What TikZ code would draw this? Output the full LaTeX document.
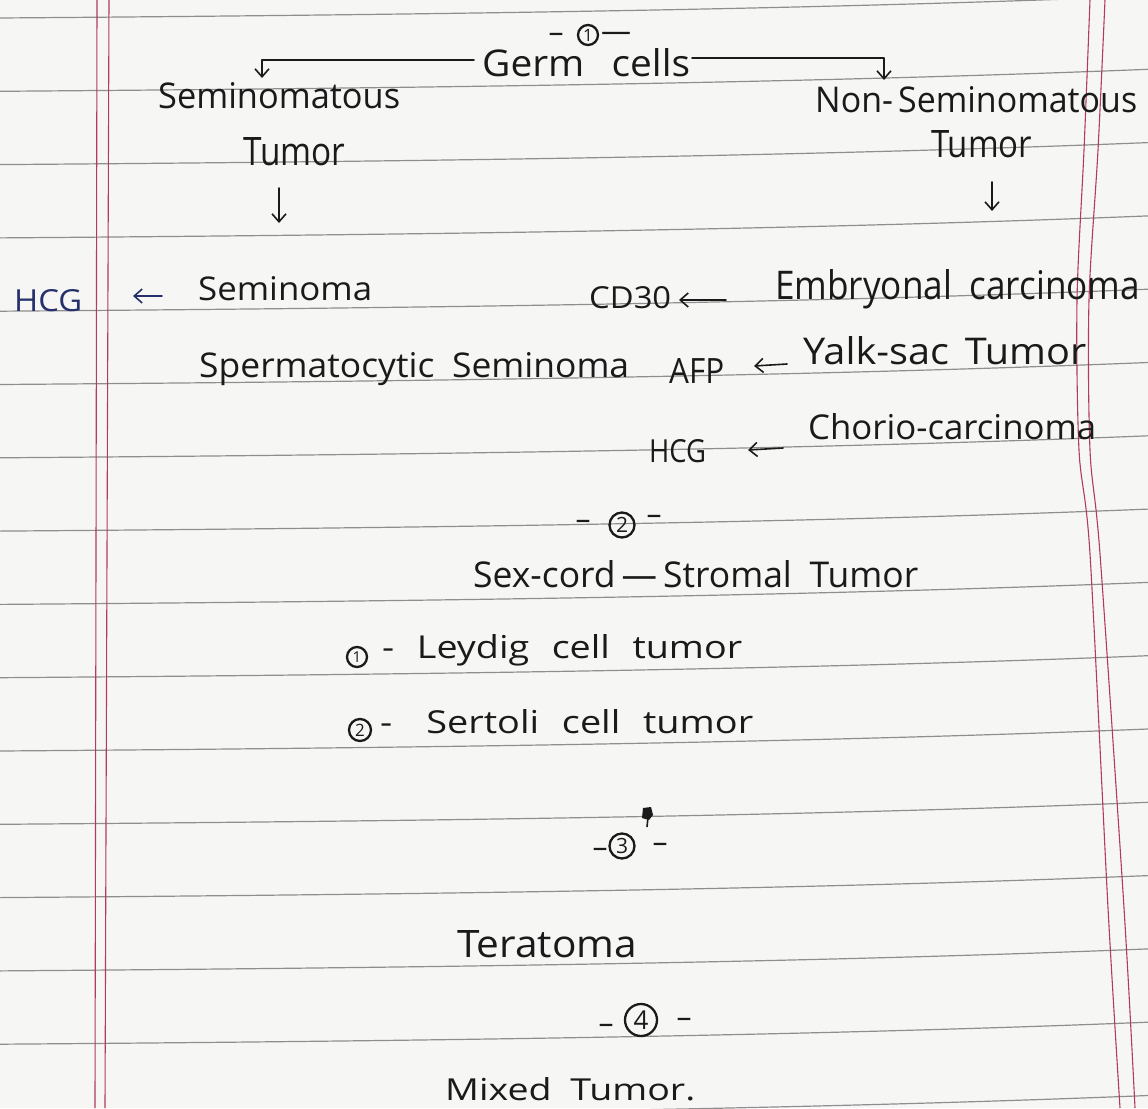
\documentclass[tikz,border=0pt]{standalone}
\usepackage{fontspec}
\setmainfont{Open Sans}
\usepackage{graphicx}
\usetikzlibrary{arrows.meta}
\definecolor{paper}{HTML}{F6F7F5}
\definecolor{rulec}{HTML}{8E8E8E}
\definecolor{marginc}{HTML}{B23A5E}
\definecolor{ink}{HTML}{1A1A1A}
\definecolor{navy}{HTML}{26306A}
% text fitted to a width and a height (in pt)
\newcommand\tw[3]{\resizebox{#1pt}{#2pt}{#3}}
\begin{document}
\begin{tikzpicture}[x=1pt,y=-1pt,
  txt/.style={anchor=base west, inner sep=0pt, text=ink, font=\fontsize{34}{40}\selectfont},
  dashtxt/.style={anchor=center, inner sep=0pt, text=ink, font=\fontsize{30}{34}\selectfont},
  circ/.style={circle, draw=ink, line width=2.3pt, inner sep=0pt, text=ink},
  rule/.style={draw=rulec, line width=1.2pt},
  marginl/.style={draw=marginc, line width=1.1pt},
  arr/.style={draw=ink, line width=1.6pt, line cap=round, line join=round, -{Straight Barb[length=8pt,width=14pt]}}
]
\fill[paper] (0,0) rectangle (1148,1108);
\useasboundingbox (0,0) rectangle (1148,1108);
% ruled lines
\foreach \k in {0,...,15} {
  \pgfmathsetmacro\yk{14+73.3*\k}
  \draw[rule] (0,\yk+4) .. controls (400,\yk+1) and (800,\yk-4) .. (1148,\yk-18);
}
% margin lines
\draw[marginl] (97,0) -- (95,1108);
\draw[marginl] (109,0) -- (105,1108);
\draw[marginl] plot[smooth] coordinates {(1090,0) (1084,150) (1077,300) (1079,450) (1090,554) (1108,908) (1120,1108)};
\draw[marginl] plot[smooth] coordinates {(1105,0) (1098,150) (1089,300) (1090,450) (1100,554) (1124,908) (1135,1108)};

% --- section 1 header
\node[dashtxt] (h1a) at (556,38) {–};
\node[circ, minimum size=20pt, font=\fontsize{17}{17}\selectfont] (h1c) at (588,35) {1};
\node[dashtxt] (h1b) at (616,37) {—};
\node[txt] (germ) at (482,77) {\tw{208}{28}{Germ\hspace{0.7em}cells}};
\node[txt] (semL) at (158,108) {\tw{242}{26}{Seminomatous}};
\node[txt] (tumL) at (243,165) {\tw{102}{28}{Tumor}};
\node[txt] (semR) at (815,113) {\tw{322}{26}{Non-\hspace{0.15em}Seminomatous}};
\node[txt] (tumR) at (931,157) {\tw{101}{27}{Tumor}};

\coordinate (gL0) at (474,60);
\coordinate (gL1) at (262,78);
\coordinate (gR0) at (692,58);
\coordinate (gR1) at (884,80);
\draw[arr] (gL0) -| (gL1);
\draw[arr] (gR0) -| (gR1);
\coordinate (dL0) at (279,188);
\coordinate (dL1) at (279,223);
\coordinate (dR0) at (992,182);
\coordinate (dR1) at (992,211);
\draw[arr] (dL0) -- (dL1);
\draw[arr] (dR0) -- (dR1);

\node[txt, text=navy] (hcgL) at (14,311) {\tw{68}{22}{HCG}};
\node[txt] (semi) at (198,300) {\tw{174}{24}{Seminoma}};
\node[txt] (sperm) at (199,377) {\tw{430}{25}{Spermatocytic\hspace{0.5em}Seminoma}};
\coordinate (aH0) at (162,296);
\coordinate (aH1) at (133,296);
\draw[arr, draw=navy] (aH0) -- (aH1);

\node[txt] (cd30) at (589,308) {\tw{82}{22}{CD30}};
\node[txt] (emb) at (775,299) {\tw{365}{30}{Embryonal\hspace{0.5em}carcinoma}};
\coordinate (aC0) at (726,300);
\coordinate (aC1) at (679,300);
\draw[arr] (aC0) -- (aC1);

\node[txt] (afp) at (669,383) {\tw{55}{25}{AFP}};
\node[txt] (yolk) at (803,364) {\tw{283}{28}{Yalk-sac\hspace{0.4em}Tumor}};
\coordinate (aA0) at (787,364);
\coordinate (aA1) at (754,366);
\draw[arr] (aA0) -- (aA1);

\node[txt] (hcgR) at (649,462) {\tw{57}{23}{HCG}};
\node[txt] (chorio) at (808,439) {\tw{288}{26}{Chorio-carcinoma}};
\coordinate (aR0) at (783,448);
\coordinate (aR1) at (748,450);
\draw[arr] (aR0) -- (aR1);

% --- section 2
\node[dashtxt] (h2a) at (583,525) {–};
\node[circ, minimum size=25pt, font=\fontsize{21}{21}\selectfont] (h2c) at (622,525) {2};
\node[dashtxt] (h2b) at (654,520) {–};
\node[txt] (sex) at (473,587) {\tw{445}{27}{Sex-cord\,—\,Stromal\hspace{0.5em}Tumor}};
\node[circ, minimum size=20pt, font=\fontsize{15}{15}\selectfont] (l1c) at (357,657) {1};
\node[txt] (l1) at (382,658) {\tw{360}{24}{-\hspace{0.6em}Leydig\hspace{0.6em}cell\hspace{0.6em}tumor}};
\node[circ, minimum size=22pt, font=\fontsize{17}{17}\selectfont] (l2c) at (360,730) {2};
\node[txt] (l2) at (380,733) {\tw{373}{24}{-\hspace{0.9em}Sertoli\hspace{0.6em}cell\hspace{0.6em}tumor}};

% --- section 3
\fill[ink] (643,808) -- (651,807) -- (653,815) -- (649,820) -- (642,818) -- cycle;
\draw[ink, line width=1.6pt] (648,817) -- (647,827);
\node[dashtxt] (h3a) at (600,853) {–};
\node[circ, minimum size=25pt, font=\fontsize{21}{21}\selectfont] (h3c) at (622,846) {3};
\node[dashtxt] (h3b) at (660,848) {–};
\node[txt] (tera) at (457,957) {\tw{180}{27}{Teratoma}};

% --- section 4
\node[dashtxt] (h4a) at (606,1029) {–};
\node[circ, minimum size=32pt, font=\fontsize{26}{26}\selectfont] (h4c) at (641,1020) {4};
\node[dashtxt] (h4b) at (684,1023) {–};
\node[txt] (mixed) at (445,1100) {\tw{250}{23}{Mixed\hspace{0.5em}Tumor.}};
\end{tikzpicture}
\end{document}
